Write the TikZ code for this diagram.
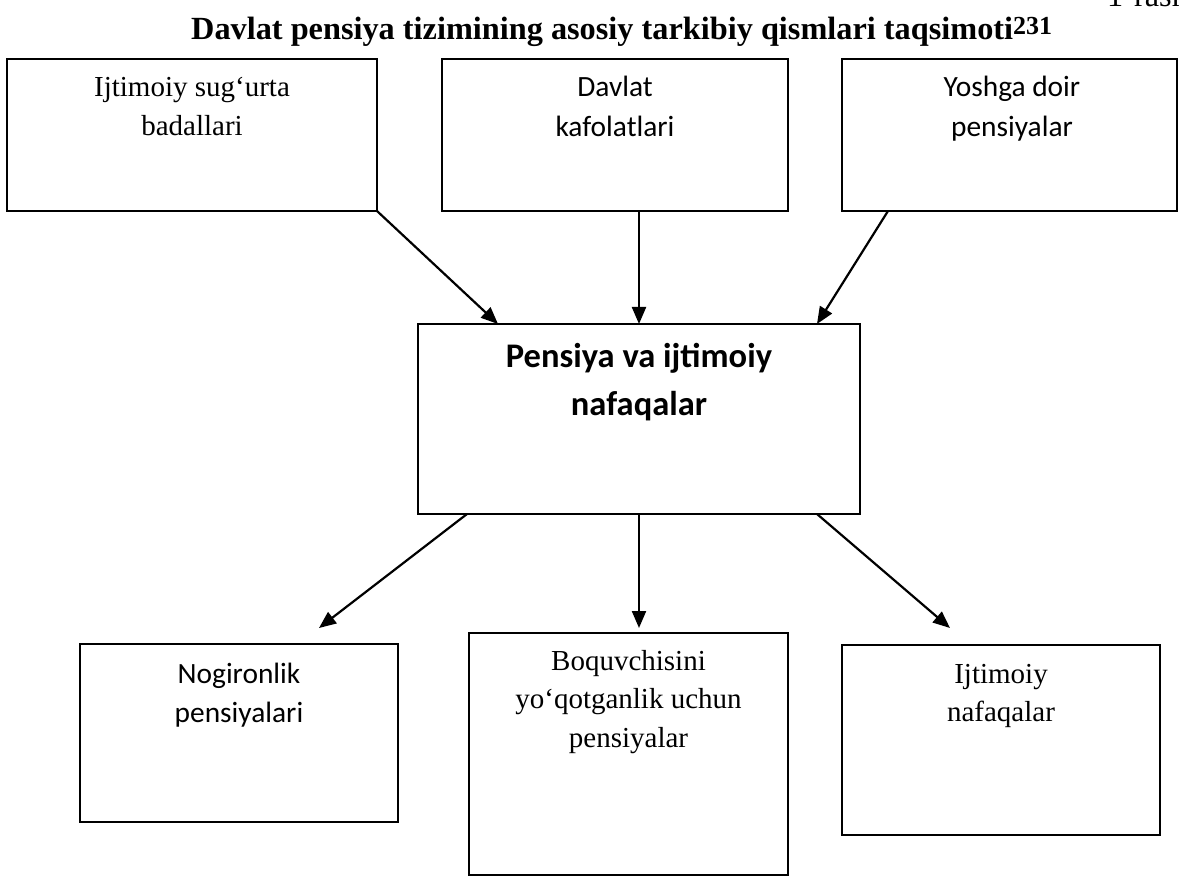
\documentclass[tikz,border=0pt]{standalone}
\usepackage{fontspec}
\setmainfont{Liberation Serif}
\newfontfamily\calibri{Carlito}
\usetikzlibrary{arrows.meta,calc}
\newcommand\mylines[1]{\begin{tabular}[t]{@{}c@{}}#1\end{tabular}}
\begin{document}
\begin{tikzpicture}[x=1pt,y=-1pt,
  box/.style={draw,line width=1.8pt,rectangle,anchor=north west,inner sep=0pt,outer sep=0pt},
  serif/.style={font=\fontsize{29}{38.5}\selectfont,anchor=base,inner sep=0pt},
  sans/.style={font=\calibri\fontsize{29.4}{39.5}\selectfont,anchor=base,inner sep=0pt},
  arr/.style={line width=2.2pt,-{Triangle[length=17pt,width=14pt]}}]
\useasboundingbox (0,0) rectangle (1179,877);
% title
\node[font=\bfseries\fontsize{32.3}{39}\selectfont,anchor=base west,inner sep=0pt] (title) at (191,40)
  {Davlat pensiya tizimining asosiy tarkibiy qismlari taqsimoti{\fontsize{26}{26}\selectfont\raisebox{5pt}{231}}};
\node[font=\fontsize{32.3}{39}\selectfont,anchor=base west,inner sep=0pt] (rasm) at (1107,7) {1-rasm};
% boxes
\node[box,minimum width=370,minimum height=152] (b1) at (7,59) {};
\node[box,minimum width=346,minimum height=152] (b2) at (442,59) {};
\node[box,minimum width=335,minimum height=152] (b3) at (842,59) {};
\node[box,minimum width=442,minimum height=190] (c) at (418,324) {};
\node[box,minimum width=318,minimum height=178] (b4) at (80,644) {};
\node[box,minimum width=319,minimum height=242] (b5) at (469,633) {};
\node[box,minimum width=318,minimum height=190] (b6) at (842,645) {};
% texts
\node[serif] (t1) at (192,97) {\mylines{Ijtimoiy sug‘urta\\badallari}};
\node[sans] (t2) at (615,97) {\mylines{Davlat\\kafolatlari}};
\node[sans] (t3) at (1012,97) {\mylines{Yoshga doir\\pensiyalar}};
\node[font=\calibri\bfseries\fontsize{34.5}{48}\selectfont,anchor=base,inner sep=0pt] (tc) at (639,368) {\mylines{Pensiya va ijtimoiy\\nafaqalar}};
\node[sans] (t4) at (239,683) {\mylines{Nogironlik\\pensiyalari}};
\node[serif] (t5) at (628.5,670) {\mylines{Boquvchisini\\yo‘qotganlik uchun\\pensiyalar}};
\node[serif] (t6) at (1001,683) {\mylines{Ijtimoiy\\nafaqalar}};
% arrow ends
\coordinate (e4) at (319,628);
\coordinate (e5) at (639,628);
\coordinate (e6) at (950,628);
% arrows
\draw[arr] (b1.south east) -- ($(c.north west)+(80,0)$);
\draw[arr] (c.north |- b2.south) -- (c.north);
\draw[arr] ($(b3.south west)+(46,0)$) -- ($(c.north east)+(-43,0)$);
\draw[arr] ($(c.south west)+(49,0)$) -- (e4);
\draw[arr] (c.south) -- (e5);
\draw[arr] ($(c.south east)+(-43,0)$) -- (e6);
\end{tikzpicture}
\end{document}
